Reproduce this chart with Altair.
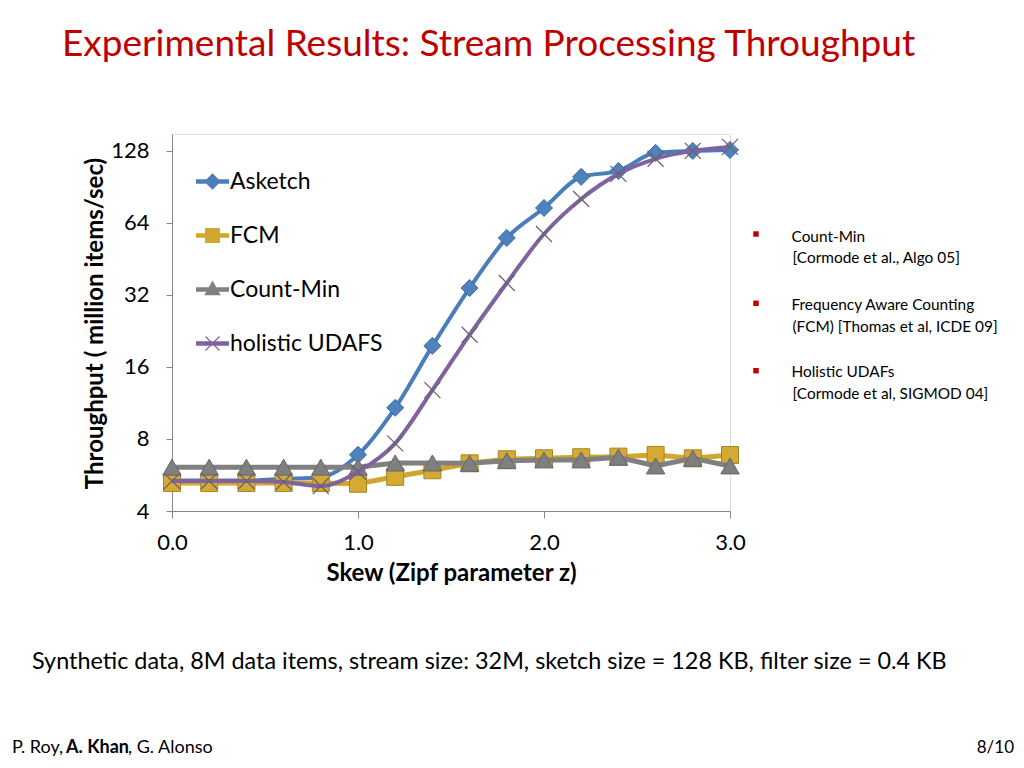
import altair as alt
import pandas as pd

# ---------------- data ----------------
skew = [0.0, 0.2, 0.4, 0.6, 0.8, 1.0, 1.2, 1.4, 1.6, 1.8, 2.0, 2.2, 2.4, 2.6, 2.8, 3.0]
series_names = ["Asketch", "FCM", "Count-Min", "holistic UDAFS"]
asketch = [5.36, 5.36, 5.36, 5.45, 5.54, 6.87, 10.8, 19.6, 34.2, 55.4, 73.9, 99.7, 105.6, 125.6, 128.0, 129.2]
fcm = [5.24, 5.24, 5.24, 5.24, 5.24, 5.2, 5.56, 5.92, 6.33, 6.58, 6.64, 6.71, 6.75, 6.86, 6.64, 6.86]
count_min = [6.1, 6.1, 6.1, 6.1, 6.1, 6.1, 6.35, 6.35, 6.33, 6.49, 6.54, 6.54, 6.71, 6.17, 6.64, 6.17]
holistic = [5.34, 5.34, 5.34, 5.29, 5.09, 5.84, 7.67, 12.8, 21.8, 35.9, 57.5, 80.6, 102.6, 118.6, 128.0, 133.0]

x_ticks = [0, 1, 2, 3]
y_ticks = [4, 8, 16, 32, 64, 128]

title_text = "Experimental Results: Stream Processing Throughput"
bullets = [
    ("Count-Min", "[Cormode et al.,  Algo 05]"),
    ("Frequency Aware Counting", "(FCM) [Thomas et al, ICDE 09]"),
    ("Holistic UDAFs", "[Cormode et al, SIGMOD 04]"),
]
footnote = "Synthetic data, 8M data items, stream size: 32M, sketch size = 128 KB, filter size = 0.4 KB"
authors = ["P. Roy,", "A. Khan", ", G. Alonso"]
page_no = "8/10"

rows = []
for name, vals in zip(series_names, [asketch, fcm, count_min, holistic]):
    for xv, v in zip(skew, vals):
        rows.append({"skew": xv, "value": v, "series": name})
df = pd.DataFrame(rows)

# ---------------- styling ----------------
FONT = "Lato"
W, H = 558, 377
RED = "#c00000"
AXIS_GRAY = "#868686"

styles = {
    "Asketch": dict(line="#4a7ebb", width=4, interp="monotone", shape="diamond",
                    fill="#4f81bd", stroke="#3a6aa6", size=289, filled=True),
    "FCM": dict(line="#d1a62d", width=5, interp="linear", shape="square",
                fill="#d4aa35", stroke="#a88420", size=289, filled=True),
    "Count-Min": dict(line="#808080", width=5, interp="linear", shape="triangle-up",
                      fill="#7f7f7f", stroke="#666666", size=340, filled=True),
    "holistic UDAFS": dict(line="#7e62a2", width=4, interp="monotone", shape="M-1,-1L1,1M-1,1L1,-1",
                           fill="none", stroke="#6b6470", size=256, filled=False),
}

legend_paths = [
    "M-1,-0.14L1,-0.14L1,0.14L-1,0.14Z M0,-0.5L0.5,0L0,0.5L-0.5,0Z",
    "M-1,-0.14L1,-0.14L1,0.14L-1,0.14Z M-0.45,-0.45L0.45,-0.45L0.45,0.45L-0.45,0.45Z",
    "M-1,-0.14L1,-0.14L1,0.14L-1,0.14Z M0,-0.55L0.5,0.35L-0.5,0.35Z",
    "M-1,-0.14L1,-0.14L1,0.14L-1,0.14Z M-0.45,-0.4L-0.4,-0.45L0.45,0.4L0.4,0.45Z M0.45,-0.4L-0.4,0.45L-0.45,0.4L0.4,-0.45Z",
]
legend_colors = [styles[s]["line"] for s in series_names]

x_enc = alt.X(
    "skew:Q",
    scale=alt.Scale(domain=[0, 3], nice=False, zero=False),
    axis=alt.Axis(
        values=x_ticks, format=".1f", title="Skew (Zipf parameter z)", grid=False,
        labelFontSize=22, labelFont=FONT, labelColor="#000000", labelPadding=14,
        labelFlush=False, labelOverlap=False,
        tickSize=7, tickColor=AXIS_GRAY, domainColor=AXIS_GRAY,
        titleFont=FONT, titleFontSize=24, titleFontWeight="bold", titleColor="#000000",
        titleY=62, titleBaseline="middle",
    ),
)
y_enc = alt.Y(
    "value:Q",
    scale=alt.Scale(type="log", base=2, domain=[4, 150.6], nice=False),
    axis=alt.Axis(
        values=y_ticks, format="d", title="Throughput ( million items/sec)", grid=False,
        labelFontSize=22, labelFont=FONT, labelColor="#000000", labelPadding=17,
        labelFlush=False, labelOverlap=False,
        tickSize=6, tickColor=AXIS_GRAY, domainColor=AXIS_GRAY,
        titleFont=FONT, titleFontSize=24, titleFontWeight="bold", titleColor="#000000",
        titleX=-77, titleY=189, titleAngle=-90, titleAlign="center", titleBaseline="middle",
    ),
)

base = alt.Chart(df)
layers = []
for s in series_names:
    st = styles[s]
    sub = base.transform_filter(alt.datum.series == s)
    layers.append(
        sub.mark_line(interpolate=st["interp"], strokeWidth=st["width"], color=st["line"])
        .encode(x=x_enc, y=y_enc)
    )
    if st["filled"]:
        pm = sub.mark_point(shape=st["shape"], filled=True, fill=st["fill"], stroke=st["stroke"],
                            strokeWidth=1, size=st["size"], opacity=1)
    else:
        pm = sub.mark_point(shape=st["shape"], filled=False, stroke=st["stroke"],
                            strokeWidth=1.3, size=st["size"], opacity=1)
    layers.append(pm.encode(x=x_enc, y=y_enc))

leg = alt.Legend(
    title=None, orient="none", legendX=24, legendY=31, padding=0,
    symbolSize=1089, symbolStrokeWidth=0, symbolOpacity=1,
    labelFont=FONT, labelFontSize=23, labelColor="#000000", labelOffset=1,
    rowPadding=25, labelLimit=300,
)
legend_layer = base.transform_filter("false").mark_point(filled=True, opacity=1).encode(
    x=x_enc, y=y_enc,
    color=alt.Color("series:N", sort=series_names,
                    scale=alt.Scale(domain=series_names, range=legend_colors), legend=leg),
    shape=alt.Shape("series:N", sort=series_names,
                    scale=alt.Scale(domain=series_names, range=legend_paths), legend=leg),
)
layers.append(legend_layer)

one = alt.Data(values=[{"a": 1}])


def txt(text, x, y, size, color="#000000", weight="normal", align="left", baseline="alphabetic"):
    return alt.Chart(one).mark_text(
        text=text, font=FONT, fontSize=size, fontWeight=weight, color=color,
        align=align, baseline=baseline,
    ).encode(x=alt.value(x), y=alt.value(y))


# title
layers.append(txt(title_text, -110, -78, 37, color=RED))
# bullets
bullet_y = [(107.7, 129), (176, 198), (243, 265)]
square_y = [100, 169.3, 236.7]
for (l1, l2), (y1, y2), sy in zip(bullets, bullet_y, square_y):
    layers.append(txt(l1, 619.5, y1, 15.4))
    layers.append(txt(l2, 620.5, y2, 15.4))
    layers.append(alt.Chart(one).mark_square(size=30, color=RED, opacity=1)
                  .encode(x=alt.value(584), y=alt.value(sy)))
# footnote
layers.append(txt(footnote, -140, 535, 23.4))
# footer
layers.append(txt(authors[0], -160, 619, 18))
layers.append(txt(authors[1], -106, 619, 18, weight="bold"))
layers.append(txt(authors[2], -44, 619, 18))
layers.append(txt(page_no, 842, 619, 17, align="right"))

chart = alt.layer(*layers).properties(
    width=W, height=H,
    autosize=alt.AutoSizeParams(type="none"),
    padding={"left": 164, "top": 126, "right": 286, "bottom": 249},
).configure_view(stroke=AXIS_GRAY, strokeWidth=1).configure(background="white")

chart.save("out.html", embed_options={"renderer": "svg", "actions": False})
